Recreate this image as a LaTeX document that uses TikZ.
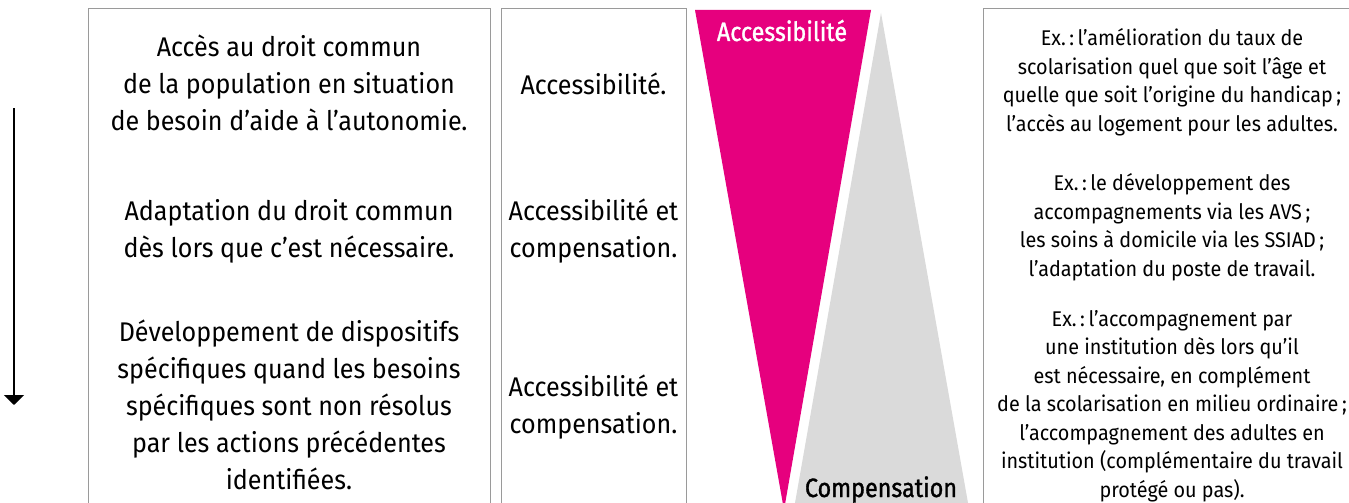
\documentclass[tikz,border=0pt]{standalone}
\usepackage{fontspec}
\setmainfont{Fira Sans}[FakeStretch=0.93]
\newfontfamily\labfont{Fira Sans}[FakeStretch=0.88,FakeBold=1.2]
\usetikzlibrary{arrows.meta}
\definecolor{mag}{HTML}{E6007E}
\definecolor{tri}{HTML}{DADADA}
\definecolor{frame}{HTML}{9A9A9A}
\begin{document}
\begin{tikzpicture}[x=1pt,y=-1pt,
  frm/.style={draw=frame,line width=1pt},
  big/.style={font=\fontsize{27}{37}\selectfont,align=center,inner sep=0pt},
  small/.style={font=\fontsize{21.3}{28.5}\selectfont,align=center,inner sep=0pt},
  lab/.style={font=\labfont\fontsize{26.5}{30}\selectfont,inner sep=0pt}]
\useasboundingbox (0,0) rectangle (1349,503);
\clip (0,0) rectangle (1349,503);
\fill[white] (0,0) rectangle (1349,503);
% frames
\draw[frm] (88,515) -- (88,9) -- (490,9) -- (490,515);
\draw[frm] (501,515) -- (501,9) -- (686,9) -- (686,515);
\draw[frm] (983,515) -- (983,9) -- (1360,9) -- (1360,515);
% triangles
\fill[tri] (881,13) -- (968,503) -- (795,503) -- cycle;
\fill[mag] (695,10) -- (871,10) -- (784,510) -- cycle;
% arrow
\coordinate (a1) at (14,108);
\coordinate (a2) at (14,405);
\draw[line width=2pt,-{Triangle[width=20pt,length=10pt]}] (a1) -- (a2);
% left column
\node[big] (l1) at (289,83) {Accès au droit commun\\de la population en situation\\de besoin d’aide à l’autonomie.};
\node[big] (l2) at (289,231) {Adaptation du droit commun\\dès lors que c’est nécessaire.};
\node[big] (l3) at (289,405) {Développement de dispositifs\\spécifiques quand les besoins\\spécifiques sont non résolus\\par les actions précédentes\\identifiées.};
% middle column
\node[big] (m1) at (593.5,83.5) {Accessibilité.};
\node[big] (m2) at (593.5,231) {Accessibilité et\\compensation.};
\node[big] (m3) at (593.5,407) {Accessibilité et\\compensation.};
% labels
\node[lab,text=white,anchor=base] (acc) at (782,41) {Accessibilité};
\node[lab,anchor=base] (comp) at (881,497) {Compensation};
% right column
\node[small] (r1) at (1172,82) {Ex.\,:\,l’amélioration du taux de\\scolarisation quel que soit l’âge et\\quelle que soit l’origine du handicap\,;\\l’accès au logement pour les adultes.};
\node[small] (r2) at (1172,227) {Ex.\,:\,le développement des\\accompagnements via les AVS\,;\\les soins à domicile via les SSIAD\,;\\l’adaptation du poste de travail.};
\node[small] (r3) at (1172,406) {Ex.\,:\,l’accompagnement par\\une institution dès lors qu’il\\est nécessaire, en complément\\de la scolarisation en milieu ordinaire\,;\\l’accompagnement des adultes en\\institution (complémentaire du travail\\protégé ou pas).};
\end{tikzpicture}
\end{document}
